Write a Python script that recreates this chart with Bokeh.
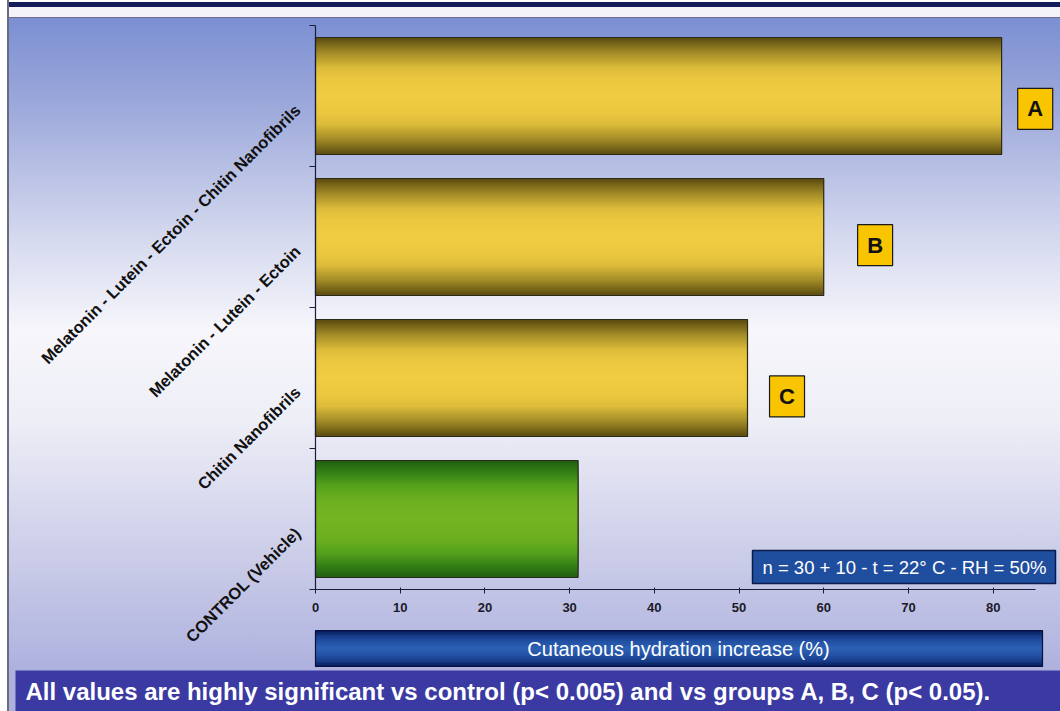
import math
from bokeh.plotting import figure
from bokeh.models import FixedTicker, BoxAnnotation, Label, Range1d
from bokeh.embed import file_html
from bokeh.resources import INLINE

# ---------------- data ----------------
categories = [
    "CONTROL (Vehicle)",
    "Chitin Nanofibrils",
    "Melatonin - Lutein - Ectoin",
    "Melatonin - Lutein - Ectoin - Chitin Nanofibrils",
]
values = [31, 51, 60, 81]
group_letters = ["", "C", "B", "A"]
x_ticks = [0, 10, 20, 30, 40, 50, 60, 70, 80]
x_title = "Cutaneous hydration increase (%)"
note_text = "n = 30 + 10 - t = 22\u00b0 C - RH = 50%"
footer_text = "All values are highly significant vs control (p< 0.005) and vs groups A, B, C (p< 0.05)."

# ---------------- layout ----------------
W, H = 1060, 711
FL, FR, FT, FB = 315, 1035, 25, 589   # pixel extent of the value axes
XMAX = 85
NCAT = len(categories)
SX = (FR - FL) / XMAX
SY = (FB - FT) / NCAT


def dx(px):
    return (px - FL) / SX


def dy(py):
    return (FB - py) / SY


def hex2rgb(h):
    h = h.lstrip("#")
    return tuple(int(h[i:i + 2], 16) for i in (0, 2, 4))


def sample(stops, f):
    for (f0, c0), (f1, c1) in zip(stops, stops[1:]):
        if f0 <= f <= f1:
            t = 0 if f1 == f0 else (f - f0) / (f1 - f0)
            a, b = hex2rgb(c0), hex2rgb(c1)
            return "#%02x%02x%02x" % tuple(int(round(a[i] + (b[i] - a[i]) * t)) for i in range(3))
    return stops[-1][1]


GOLD = [(0.0, "#f0cc42"), (0.3, "#ecc840"), (0.5, "#dcbc3a"), (0.75, "#a48c28"), (1.0, "#5e4e10")]
GREEN = [(0.0, "#74b422"), (0.35, "#6cb020"), (0.6, "#54a01c"), (0.8, "#368216"), (1.0, "#226010")]
NAVY = [(0.0, "#2c62b6"), (0.4, "#2452a6"), (0.75, "#163c88"), (1.0, "#081c5c")]

FONT = "Liberation Sans"

p = figure(
    width=W, height=H,
    x_range=Range1d(dx(0), dx(W)), y_range=Range1d(dy(H), dy(0)),
    output_backend="svg", toolbar_location=None, min_border=0,
)
p.grid.visible = False
p.outline_line_color = None
p.background_fill_alpha = 0
p.border_fill_alpha = 0
p.styles = {
    "background": (
        "linear-gradient(to right, #ffffff 0px, #ffffff 7px, #6a6a80 7px, #6a6a80 9px, rgba(0,0,0,0) 9px), "
        "linear-gradient(to bottom, #ffffff 0px, #ffffff 2px, #141c5c 2px, #141c5c 7px, #f4f4f8 7px, "
        "#f4f4f8 17px, #70708e 17px, #70708e 18px, #7b8fd2 18px, #9eaadb 110px, #d6daef 240px, "
        "#f6f6fb 330px, #eeeef7 420px, #cacce8 560px, #aeb1de 670px, #aeb1de 711px)"
    )
}

ys = [i + 0.5 for i in range(NCAT)]
BAR_H = 0.83
stops_per_bar = [GREEN if not letter else GOLD for letter in group_letters]

# gradient bars as nested bands
N = 30
for k in range(N):
    f = 1 - k / N
    cols = [sample(st, f) for st in stops_per_bar]
    p.hbar(y=ys, right=values, left=0, height=BAR_H * f, fill_color=cols, line_color=None)
p.hbar(y=ys, right=values, left=0, height=BAR_H, fill_color=None, line_color="#2a2a18", line_width=1.2)

# axes
label_pos = [y - 0.08 for y in ys]
p.yaxis.fixed_location = 0
p.yaxis.bounds = (0, NCAT)
p.yaxis.ticker = FixedTicker(ticks=label_pos, minor_ticks=list(range(NCAT + 1)))
p.yaxis.major_label_overrides = {y: c for y, c in zip(label_pos, categories)}
p.yaxis.major_label_orientation = math.pi / 4
p.yaxis.major_tick_line_color = None
p.yaxis.minor_tick_out = 6
p.yaxis.minor_tick_in = 0
p.yaxis.minor_tick_line_color = "#1c1c3c"
p.yaxis.axis_line_color = "#1c1c3c"
p.yaxis.axis_line_width = 1.2
p.yaxis.major_label_text_font = FONT
p.yaxis.major_label_text_font_size = "16.5px"
p.yaxis.major_label_text_font_style = "bold"
p.yaxis.major_label_text_color = "#111111"
p.yaxis.major_label_standoff = 12

p.xaxis.fixed_location = 0
p.xaxis.bounds = (0, XMAX)
p.xaxis.ticker = FixedTicker(ticks=x_ticks)
p.xaxis.minor_tick_line_color = None
p.xaxis.major_tick_out = 4
p.xaxis.major_tick_in = 2
p.xaxis.major_tick_line_color = "#1c1c3c"
p.xaxis.axis_line_color = "#1c1c3c"
p.xaxis.axis_line_width = 1.2
p.xaxis.major_label_text_font = FONT
p.xaxis.major_label_text_font_size = "13px"
p.xaxis.major_label_text_font_style = "bold"
p.xaxis.major_label_text_color = "#1a1a2a"
p.xaxis.major_label_standoff = 9

# significance letters
letter_off = {"A": 1.9, "B": 4.0, "C": 2.6}
letter_dyo = {"A": -0.092, "B": -0.057, "C": -0.131}
BW, BH = 35 / SX, 41 / SY
for yv, v, letter in zip(ys, values, group_letters):
    if not letter:
        continue
    left = v + letter_off[letter]
    yc = yv + letter_dyo[letter]
    p.add_layout(BoxAnnotation(left=left, right=left + BW, bottom=yc - BH / 2, top=yc + BH / 2,
                               fill_color="#f8c500", fill_alpha=1, line_color="#1a1a1a",
                               line_alpha=1, line_width=1.2))
    p.add_layout(Label(x=left + BW / 2, y=yc, text=letter, text_align="center", text_baseline="middle",
                       text_font=FONT, text_font_size="22px", text_font_style="bold", text_color="#111111"))

# note box
p.add_layout(BoxAnnotation(left=dx(752), right=dx(1055), top=dy(550), bottom=dy(583),
                           fill_color="#1f4e9e", fill_alpha=1, line_color="#0b1b4d", line_alpha=1,
                           line_width=1.5))
p.add_layout(Label(x=dx(904), y=dy(566.5), text=note_text, text_align="center", text_baseline="middle",
                   text_font=FONT, text_font_size="18.5px", text_color="#ffffff"))

# axis title box (gradient)
TC, TH = 648, 18
NT = 12
for k in range(NT):
    f = 1 - k / NT
    p.add_layout(BoxAnnotation(left=dx(315), right=dx(1042), top=dy(TC - TH * f), bottom=dy(TC + TH * f),
                               fill_color=sample(NAVY, f), fill_alpha=1, line_color=None))
p.add_layout(BoxAnnotation(left=dx(315), right=dx(1042), top=dy(TC - TH), bottom=dy(TC + TH),
                           fill_alpha=0, line_color="#06123e", line_alpha=1, line_width=1.2))
p.add_layout(Label(x=dx(678), y=dy(648), text=x_title, text_align="center", text_baseline="middle",
                   text_font=FONT, text_font_size="20px", text_color="#ffffff"))

# footer banner
p.add_layout(BoxAnnotation(left=dx(15), right=dx(1060), top=dy(670), bottom=dy(711),
                           fill_color="#3a3aa2", fill_alpha=1, line_color=None))
p.add_layout(Label(x=dx(25), y=dy(691), text=footer_text, text_align="left", text_baseline="middle",
                   text_font=FONT, text_font_size="24px", text_font_style="bold", text_color="#ffffff"))

open("out.html", "w").write(file_html(p, INLINE))
